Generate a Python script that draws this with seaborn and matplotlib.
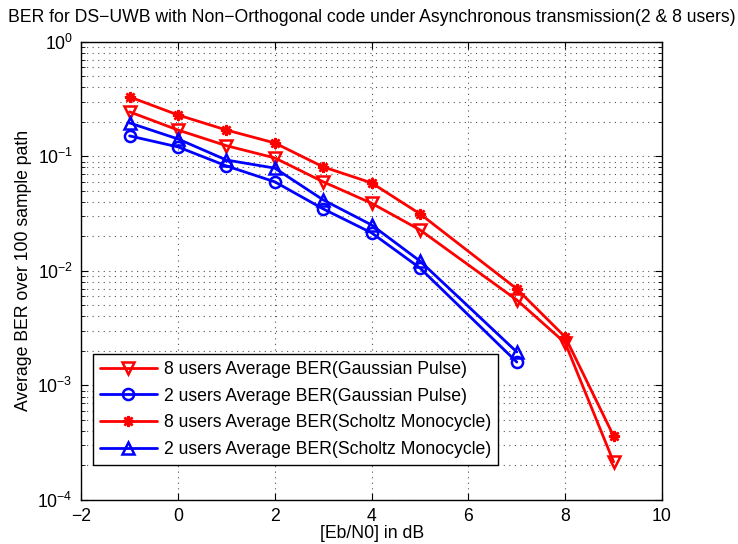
import numpy as np
import pandas as pd
import seaborn as sns
import matplotlib
matplotlib.use("Agg")
import matplotlib.pyplot as plt
from matplotlib.ticker import LogLocator, MultipleLocator, NullFormatter

sns.set_style("ticks")
plt.rcParams['font.family'] = ['Liberation Sans', 'DejaVu Sans']
plt.rcParams['mathtext.fontset'] = 'custom'
plt.rcParams['mathtext.rm'] = 'Liberation Sans'
for k in ['text.color', 'axes.labelcolor', 'xtick.color', 'ytick.color', 'axes.edgecolor']:
    plt.rcParams[k] = 'black'

snr_a = [-1, 0, 1, 2, 3, 4, 5, 7, 8, 9]
snr_b = [-1, 0, 1, 2, 3, 4, 5, 7]

ber_8_gauss = [0.245, 0.170, 0.124, 0.097, 0.060, 0.039, 0.0228, 0.00558, 0.00235, 0.000215]
ber_2_gauss = [0.151, 0.121, 0.0826, 0.060, 0.0348, 0.0215, 0.0106, 0.0016]
ber_8_scholtz = [0.331, 0.230, 0.170, 0.131, 0.081, 0.0587, 0.0315, 0.00697, 0.00265, 0.000362]
ber_2_scholtz = [0.196, 0.142, 0.093, 0.079, 0.0417, 0.0252, 0.0122, 0.00196]

labels = ["8 users Average BER(Gaussian Pulse)",
          "2 users Average BER(Gaussian Pulse)",
          "8 users Average BER(Scholtz Monocycle)",
          "2 users Average BER(Scholtz Monocycle)"]

series = [(snr_a, ber_8_gauss, 'red', 'v', 'none'),
          (snr_b, ber_2_gauss, 'blue', 'o', 'none'),
          (snr_a, ber_8_scholtz, 'red', (8, 2, 0), 'red'),
          (snr_b, ber_2_scholtz, 'blue', '^', 'none')]

FS = 12.7

fig = plt.figure(figsize=(7.38, 5.44), dpi=100)
ax = fig.add_axes([0.110, 0.081, 0.787, 0.842])

for (x, y, c, m, fc), lab in zip(series, labels):
    df = pd.DataFrame({"x": x, "y": y})
    sns.lineplot(data=df, x="x", y="y", ax=ax, color=c, marker=m, markersize=8,
                 markerfacecolor=fc, markeredgecolor=c, markeredgewidth=1.8,
                 linewidth=2, label=lab)

ax.set_yscale('log')
ax.set_xlim(-2, 10)
ax.set_ylim(1e-4, 1)
ax.xaxis.set_major_locator(MultipleLocator(2))
ax.yaxis.set_major_locator(LogLocator(base=10, numticks=10))
ax.yaxis.set_minor_locator(LogLocator(base=10, subs=np.arange(2, 10), numticks=10))
ax.yaxis.set_minor_formatter(NullFormatter())

ax.grid(True, which='major', axis='both', linestyle=(0, (1, 4)), color='#555555', linewidth=0.8)
ax.grid(True, which='minor', axis='y', linestyle=(0, (1, 4)), color='#555555', linewidth=0.8)
ax.tick_params(which='both', direction='in', top=True, right=True, labelsize=FS, colors='black')
ax.tick_params(which='major', length=5)
ax.tick_params(axis='x', which='major', pad=6)
ax.tick_params(axis='y', which='major', pad=6)
ax.tick_params(which='minor', length=3)
for s in ax.spines.values():
    s.set_linewidth(1.0)
    s.set_color('black')

ax.set_title("BER for DS\u2212UWB with Non\u2212Orthogonal code under Asynchronous transmission(2 & 8 users)",
             fontsize=FS, pad=14, color='black')
ax.set_xlabel("[Eb/N0] in dB", fontsize=FS, labelpad=0, color='black')
ax.set_ylabel("Average BER over 100 sample path", fontsize=FS, labelpad=4, color='black')

leg = ax.legend(loc='lower left', bbox_to_anchor=(0.0207, 0.076), borderaxespad=0,
                fontsize=FS, frameon=True, fancybox=False, edgecolor='black', framealpha=1,
                borderpad=0.4, labelspacing=0.55, handlelength=3.2, handletextpad=0.4)
leg.get_frame().set_linewidth(1.0)
for t in leg.get_texts():
    t.set_color('black')

fig.savefig("out.png", dpi=100)
